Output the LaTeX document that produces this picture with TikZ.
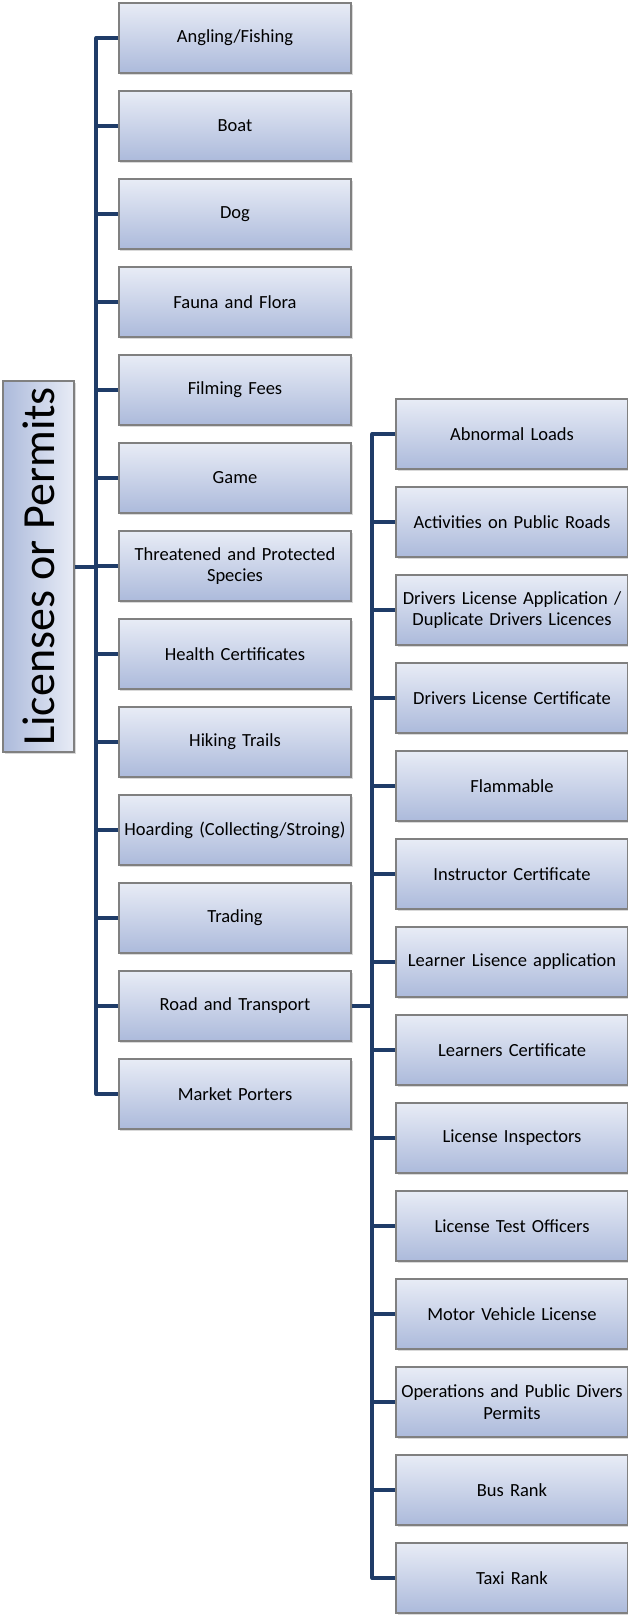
\documentclass[tikz,border=0pt]{standalone}
\usepackage{fontspec}
\setmainfont{Carlito}
\usepackage{tikz}
\usetikzlibrary{matrix, shadows}

\definecolor{linkblue}{RGB}{31,60,104}
\definecolor{boxtop}{RGB}{232,236,246}
\definecolor{boxbottom}{RGB}{172,186,219}
\definecolor{boxedge}{RGB}{128,128,128}

\begin{document}
\begin{tikzpicture}[x=1pt, y=-1pt,
      box/.style={draw=boxedge, line width=1.2pt, top color=boxtop, bottom color=boxbottom,
        drop shadow={shadow xshift=1.5pt, shadow yshift=-2pt, opacity=.3},
        minimum width=232pt, minimum height=70pt, text width=226pt, inner xsep=3pt,
        align=center, anchor=center, font=\fontsize{18.5}{21.5}\selectfont},
      rootbox/.style={draw=boxedge, line width=1.2pt, left color=boxbottom, right color=boxtop,
        drop shadow={shadow xshift=1.5pt, shadow yshift=-2pt, opacity=.3},
        rotate=90, minimum width=371pt, minimum height=71pt, inner sep=0pt,
        font=\fontsize{46}{52}\selectfont},
      link/.style={draw=linkblue, line width=4pt, line join=round}]
      \useasboundingbox (0,0) rectangle (628,1615);
      \node[rootbox] (root) at (38.5,566.5) {Licenses or Permits};
      \matrix (L)[matrix of nodes, nodes={box}, anchor=L-1-1.center,
      row sep={88pt,between origins}
      ] at (235,38) {
        Angling/Fishing \\
        Boat \\
        Dog \\
        Fauna and Flora \\
        Filming Fees \\
        Game \\
        {Threatened and Protected\\ Species} \\
        Health Certificates \\
        Hiking Trails \\
        Hoarding (Collecting/Stroing) \\
        Trading \\
        Road and Transport \\
        Market Porters \\
      };
      \matrix (R)[matrix of nodes, nodes={box}, anchor=R-1-1.center,
      row sep={88pt,between origins}
      ] at (512,434) {
        Abnormal Loads \\
        Activities on Public Roads \\
        {Drivers License Application /\\ Duplicate Drivers Licences} \\
        Drivers License Certificate \\
        Flammable \\
        Instructor Certificate \\
        Learner Lisence application \\
        Learners Certificate \\
        License Inspectors \\
        License Test Officers \\
        Motor Vehicle License \\
        {Operations and Public Divers\\ Permits} \\
        Bus Rank \\
        Taxi Rank \\
      };
      % left tree
      \draw[link] (L-1-1.west) -| ([xshift=-22pt]L-13-1.west) -- (L-13-1.west);
      \foreach \i in {2,...,12}
        \draw[link] (L-\i-1.west) -- ++(-22,0);
      \draw[link] (root.south) -- ++(23,0);
      % right tree
      \draw[link] (R-1-1.west) -| ([xshift=-23pt]R-14-1.west) -- (R-14-1.west);
      \foreach \i in {2,...,13}
        \draw[link] (R-\i-1.west) -- ++(-23,0);
      \draw[link] (L-12-1.east) -- ++(22,0);
    \end{tikzpicture}
\end{document}
